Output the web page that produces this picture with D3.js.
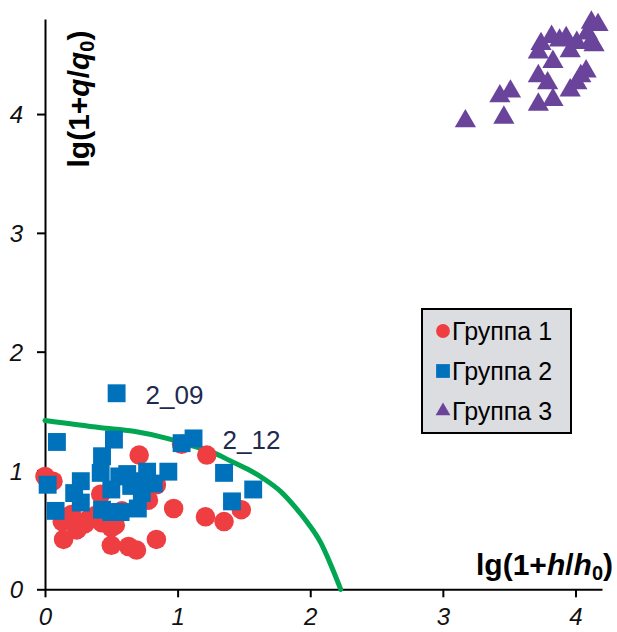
<!DOCTYPE html>
<html>
<head>
<meta charset="utf-8">
<script src="https://cdn.jsdelivr.net/npm/d3@7"></script>
<style>
  body { margin: 0; background: #fff; }
  svg { font-family: "Liberation Sans", Arial, sans-serif; }
  .tick text { font-style: italic; font-size: 24px; fill: #111; }
</style>
</head>
<body>
<svg width="617" height="632"></svg>
<script>
// ***Data***
var group1 = [
  [0.00, 0.95], [0.06, 0.91], [0.71, 1.13], [1.03, 1.22], [1.22, 1.13],
  [0.97, 0.68], [1.21, 0.61], [1.35, 0.57], [1.48, 0.67], [0.84, 0.42],
  [0.50, 0.37], [0.63, 0.36], [0.69, 0.33], [0.14, 0.42], [0.24, 0.50],
  [0.13, 0.57], [0.33, 0.59], [0.42, 0.80], [0.43, 0.56], [0.53, 0.54],
  [0.58, 0.66], [0.78, 0.75], [0.84, 0.88], [0.20, 0.58], [0.38, 0.62],
  [0.48, 0.60], [0.75, 0.83], [0.30, 0.55], [0.20, 0.63], [0.50, 0.52]
];
var group2 = [
  [0.54, 1.65], [0.09, 1.24], [0.52, 1.26], [0.43, 1.12], [0.42, 0.98],
  [0.27, 0.91], [0.02, 0.88], [0.22, 0.81], [0.27, 0.73], [0.08, 0.66],
  [0.43, 0.67], [0.50, 0.65], [0.57, 0.65], [0.70, 0.68], [0.50, 0.84],
  [0.62, 0.97], [0.69, 0.91], [0.77, 0.99], [0.82, 0.89], [0.93, 0.99],
  [1.03, 1.23], [1.12, 1.27], [1.35, 0.98], [1.41, 0.74], [1.57, 0.84],
  [0.73, 0.81], [0.65, 0.87], [0.56, 0.95]
];
var group3 = [
  [3.17, 3.94], [3.46, 3.97], [3.43, 4.15], [3.51, 4.19], [3.72, 4.08],
  [3.83, 4.12], [3.79, 4.26], [3.72, 4.32], [3.83, 4.44], [3.74, 4.59],
  [3.72, 4.52], [3.82, 4.65], [3.93, 4.64], [4.01, 4.60], [3.96, 4.53],
  [4.12, 4.77], [4.17, 4.75], [4.09, 4.68], [4.12, 4.61], [4.14, 4.58],
  [4.08, 4.36], [4.04, 4.32], [4.01, 4.26], [3.96, 4.20], [3.88, 4.62]
];
// boundary curve
var boundary = [
  [0.00, 1.42], [0.42, 1.36], [0.67, 1.33], [0.92, 1.27], [1.07, 1.22],
  [1.27, 1.15], [1.40, 1.08], [1.53, 1.01], [1.65, 0.93], [1.78, 0.82],
  [1.88, 0.70], [1.98, 0.56], [2.08, 0.39], [2.15, 0.22], [2.23, 0.00]
];
var pointLabels = [["2_09", 0.54, 1.65], ["2_12", 1.12, 1.27]];
var xTicks = [0, 1, 2, 3, 4];
var yTicks = [0, 1, 2, 3, 4];
var legendNames = ["Группа 1", "Группа 2", "Группа 3"];

var colors = ["#ef3e42", "#0072bc", "#6a449b"];

var svg = d3.select("svg");

var x = d3.scaleLinear().domain([0, 4.2]).range([45, 602]);
var y = d3.scaleLinear().domain([0, 4.8]).range([589.3, 19]);

// axes
var gx = svg.append("g")
  .attr("transform", "translate(0," + y(0) + ")")
  .call(d3.axisBottom(x).tickValues(xTicks).tickFormat(d3.format("d"))
    .tickSize(8).tickSizeOuter(0).tickPadding(11));
var gy = svg.append("g")
  .attr("transform", "translate(" + x(0) + ",0)")
  .call(d3.axisLeft(y).tickValues(yTicks).tickFormat(d3.format("d"))
    .tickSize(8).tickSizeOuter(0).tickPadding(14));

svg.selectAll(".domain").attr("stroke", "#000").attr("stroke-width", 2);
svg.selectAll(".tick line").attr("stroke", "#000").attr("stroke-width", 2);
gx.selectAll(".tick text").attr("font-family", null).attr("font-size", null);
gy.selectAll(".tick text").attr("font-family", null).attr("font-size", null).attr("dy", "0.36em");

// boundary line
var line = d3.line()
  .x(function(d) { return x(d[0]); })
  .y(function(d) { return y(d[1]); })
  .curve(d3.curveMonotoneX);

svg.append("path")
  .datum(boundary)
  .attr("d", line)
  .attr("fill", "none")
  .attr("stroke", "#00a651")
  .attr("stroke-width", 5)
  .attr("stroke-linecap", "round");

// points
var symbols = [d3.symbolCircle, d3.symbolSquare, d3.symbolTriangle];
var sizes = [300, 320, 195];
[group1, group2, group3].forEach(function(data, i) {
  svg.append("g").selectAll("path")
    .data(data)
    .enter().append("path")
    .attr("transform", function(d) { return "translate(" + x(d[0]) + "," + y(d[1]) + ")"; })
    .attr("d", d3.symbol().type(symbols[i]).size(sizes[i]))
    .attr("fill", colors[i]);
});

// point labels
svg.selectAll("text.plabel")
  .data(pointLabels)
  .enter().append("text")
  .attr("class", "plabel")
  .attr("x", function(d) { return x(d[1]) + 29; })
  .attr("y", function(d) { return y(d[2]) + 11; })
  .attr("font-size", 26)
  .attr("fill", "#1f2a4f")
  .text(function(d) { return d[0]; });

// axis titles
var xt = svg.append("text")
  .attr("x", 613).attr("y", 575)
  .attr("text-anchor", "end")
  .attr("font-weight", "bold")
  .attr("font-size", 30);
xt.append("tspan").text("lg(1+");
xt.append("tspan").attr("font-style", "italic").text("h");
xt.append("tspan").text("/");
xt.append("tspan").attr("font-style", "italic").text("h");
xt.append("tspan").attr("font-size", 20).attr("dy", 5).text("0");
xt.append("tspan").attr("dy", -5).text(")");

var yt = svg.append("text")
  .attr("transform", "translate(89,99) rotate(-90)")
  .attr("text-anchor", "middle")
  .attr("font-weight", "bold")
  .attr("font-size", 30);
yt.append("tspan").text("lg(1+");
yt.append("tspan").attr("font-style", "italic").text("q");
yt.append("tspan").text("/");
yt.append("tspan").attr("font-style", "italic").text("q");
yt.append("tspan").attr("font-size", 20).attr("dy", 5).text("0");
yt.append("tspan").attr("dy", -5).text(")");

// legend
var legend = svg.append("g");
legend.append("rect")
  .attr("x", 422).attr("y", 309)
  .attr("width", 149).attr("height", 124)
  .attr("fill", "#dcdde0")
  .attr("stroke", "#000")
  .attr("stroke-width", 2);

var legendSizes = [150, 190, 95];
legendNames.forEach(function(name, i) {
  var ly = 331 + i * 40;
  legend.append("path")
    .attr("transform", "translate(443," + ly + ")")
    .attr("d", d3.symbol().type(symbols[i]).size(legendSizes[i]))
    .attr("fill", colors[i]);
  legend.append("text")
    .attr("x", 452).attr("y", ly + 8.5)
    .attr("font-size", 25)
    .attr("fill", "#000")
    .text(name);
});
</script>
</body>
</html>
